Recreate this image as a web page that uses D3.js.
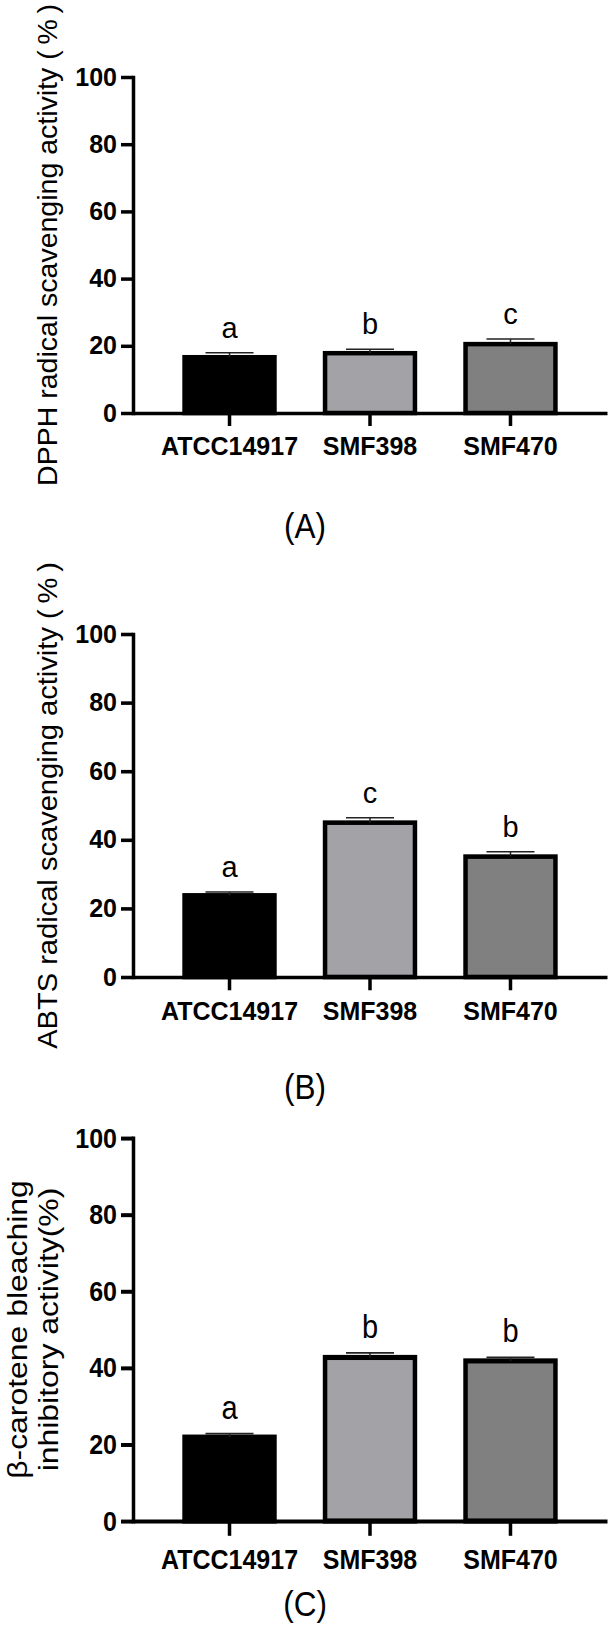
<!DOCTYPE html>
<html>
<head>
<meta charset="utf-8">
<script src="https://cdn.jsdelivr.net/npm/d3@7"></script>
<style>
  html, body { margin: 0; padding: 0; background: #fff; }
  svg { display: block; }
  text { font-family: "Liberation Sans", Arial, sans-serif; fill: #000; }
</style>
</head>
<body>
<svg id="chart" width="615" height="1626"></svg>
<script>
// ---------------- data ----------------
const categories = ["ATCC14917", "SMF398", "SMF470"];
const yTicks = [0, 20, 40, 60, 80, 100];
const barColors = ["#000000", "#a2a2a7", "#808080"];

const dpphMean = [16.6, 17.8, 20.5];
const dpphErr  = [1.3, 1.2, 1.5];
const dpphSig  = ["a", "b", "c"];

const abtsMean = [23.8, 45.0, 35.1];
const abtsErr  = [1.0, 1.4, 1.4];
const abtsSig  = ["a", "c", "b"];

const carMean = [21.9, 42.7, 41.8];
const carErr  = [0.9, 1.2, 0.9];
const carSig  = ["a", "b", "b"];

const panelLabels = ["(A)", "(B)", "(C)"];
const titleA = ["DPPH radical scavenging activity (\u2009%\u2009)"];
const titleB = ["ABTS radical scavenging activity (\u2009%\u2009)"];
const titleC = ["\u03B2-carotene bleaching", "inhibitory activity(%)"];

// ---------------- layout ----------------
const svg = d3.select("#chart");
const H = 336;               // local plot height (100 -> 0)
const axisX0 = 133, axisX1 = 607;

const panels = [
  { mean: dpphMean, err: dpphErr, sig: dpphSig, title: titleA, ty: 77,   sy: 1,       label: panelLabels[0], labelY: 537.5 },
  { mean: abtsMean, err: abtsErr, sig: abtsSig, title: titleB, ty: 634,  sy: 343/336, label: panelLabels[1], labelY: 1099 },
  { mean: carMean,  err: carErr,  sig: carSig,  title: titleC, ty: 1138, sy: 383/336, label: panelLabels[2], labelY: 1615.5 }
];

const x = d3.scaleBand()
  .domain(categories)
  .range([axisX0, axisX1])
  .paddingInner(0.36)
  .paddingOuter(0.367);

const y = d3.scaleLinear().domain([0, 100]).range([H, 0]);

panels.forEach(p => {
  const g = svg.append("g")
    .attr("transform", `translate(0,${p.ty}) scale(1,${p.sy})`);

  const rows = categories.map((c, i) => ({ c, m: p.mean[i], e: p.err[i], s: p.sig[i], col: barColors[i] }));

  // bars
  g.selectAll("rect.bar").data(rows).enter().append("rect")
    .attr("class", "bar")
    .attr("x", d => x(d.c))
    .attr("width", x.bandwidth())
    .attr("y", d => y(d.m))
    .attr("height", d => y(0) - y(d.m))
    .attr("fill", d => d.col)
    .attr("stroke", "#000")
    .attr("stroke-width", 4.5);

  // error bars
  const eg = g.selectAll("g.err").data(rows).enter().append("g").attr("class", "err");
  eg.append("line")
    .attr("x1", d => x(d.c) + x.bandwidth() / 2)
    .attr("x2", d => x(d.c) + x.bandwidth() / 2)
    .attr("y1", d => y(d.m))
    .attr("y2", d => y(d.m + d.e))
    .attr("stroke", "#222").attr("stroke-width", 1.5);
  eg.append("line")
    .attr("x1", d => x(d.c) + x.bandwidth() / 2 - 24)
    .attr("x2", d => x(d.c) + x.bandwidth() / 2 + 24)
    .attr("y1", d => y(d.m + d.e))
    .attr("y2", d => y(d.m + d.e))
    .attr("stroke", "#222").attr("stroke-width", 1.5);

  // significance letters
  g.selectAll("text.sig").data(rows).enter().append("text")
    .attr("class", "sig")
    .attr("x", d => x(d.c) + x.bandwidth() / 2)
    .attr("y", d => y(d.m + d.e) - 15 / p.sy)
    .attr("text-anchor", "middle")
    .style("font-size", "29px")
    .text(d => d.s);

  // y axis
  const ya = g.append("g")
    .attr("transform", `translate(${axisX0},0)`)
    .call(d3.axisLeft(y).tickValues(yTicks).tickSize(12).tickSizeOuter(0).tickPadding(4));
  ya.selectAll("text").style("font-size", "25px").style("font-weight", "bold").attr("font-family", null);
  ya.select(".domain").attr("stroke-width", 3.5).attr("stroke-linecap", "square");
  ya.selectAll(".tick line").attr("stroke-width", 3.5);

  // x axis
  const xa = g.append("g")
    .attr("transform", `translate(0,${H})`)
    .call(d3.axisBottom(x).tickSize(13).tickSizeOuter(0).tickPadding(11));
  xa.selectAll("text").style("font-size", "25px").style("font-weight", "bold").attr("font-family", null);
  xa.select(".domain").attr("stroke-width", 3.5);
  xa.selectAll(".tick line").attr("stroke-width", 3.5);

  // y title
  const lineXs = p.title.length === 1 ? [57] : [27, 58];
  p.title.forEach((t, i) => {
    g.append("text")
      .attr("transform", `translate(${lineXs[i]},${H / 2}) rotate(-90)`)
      .attr("text-anchor", "middle")
      .style("font-size", p.title.length === 1 ? "28.5px" : "28px")
      .text(t);
  });

  // panel label
  svg.append("text")
    .attr("transform", `translate(305,${p.labelY}) scale(0.9,1)`)
    .attr("text-anchor", "middle")
    .style("font-size", "35px")
    .text(p.label);
});
</script>
</body>
</html>
